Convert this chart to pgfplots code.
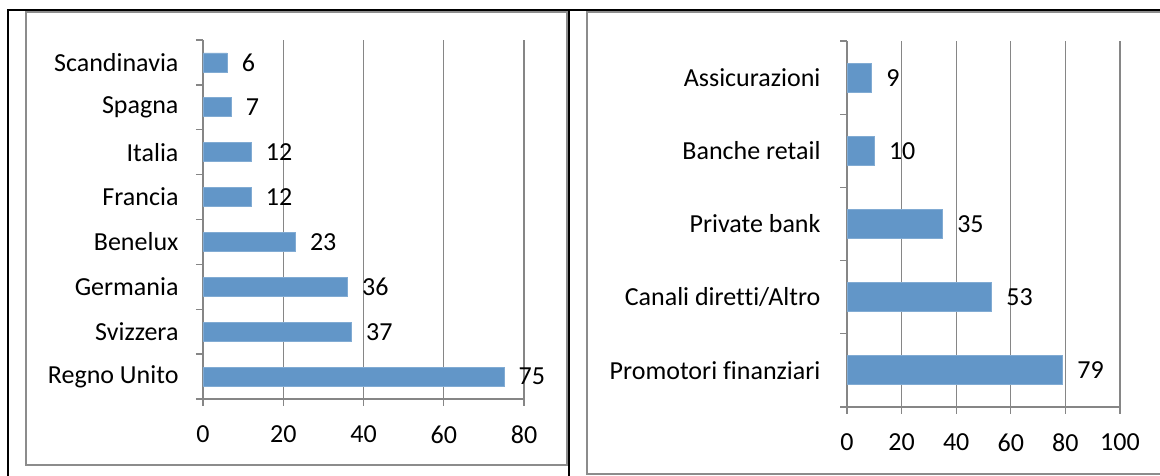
\documentclass[border=0pt]{standalone}
\usepackage{fontspec}
\setmainfont[Ligatures=NoCommon]{Carlito}
\usepackage{pgfplots}
\pgfplotsset{compat=1.18}

\definecolor{barblue}{RGB}{98,150,200}
\definecolor{axgray}{RGB}{134,134,134}
\definecolor{boxgray}{RGB}{140,140,140}

\pgfplotsset{
  catbar/.style={
    scale only axis,
    xbar, xmin=0,
    axis lines*=left,
    axis line style={axgray, line width=1.3pt},
    tick style={axgray, line width=1.3pt},
    major tick length=7pt,
    tick align=outside,
    xtick pos=bottom, ytick pos=left,
    xmajorgrids, grid style={axgray, line width=1.3pt},
    y tick label as interval,
    font=\fontsize{26}{30}\selectfont,
    /pgf/number format/assume math mode=true,
    xticklabel style={yshift=-16pt},
    nodes near coords,
    nodes near coords style={anchor=west, xshift=11pt, black},
  },
  barstyle/.style={fill=barblue, draw=barblue!80!white, line width=0.8pt},
}

\begin{document}
\begin{tikzpicture}[x=1pt,y=1pt]
\useasboundingbox (0,0) rectangle (1160,476);

% table frame and chart boxes
\draw[black, line width=1.3pt] (8,0) -- (8,466) -- (1162,466);
\draw[black, line width=1.3pt] (569,0) -- (569,466);
\draw[boxgray, line width=2pt] (26,11) rectangle (567,464);
\draw[boxgray, line width=2pt] (587,2) rectangle (1175,464);

% left chart
\begin{axis}[catbar,
  at={(203pt,77pt)}, anchor=south west,
  width=321pt, height=359pt,
  xmax=80, xtick={0,20,40,60,80},
  ymin=0.5, ymax=8.5,
  ytick={0.5,1.5,...,8.5},
  yticklabels={Regno Unito,Svizzera,Germania,Benelux,Francia,Italia,Spagna,Scandinavia,{}},
  yticklabel style={xshift=-14pt},
  bar width=19pt,
]
\addplot[barstyle] coordinates {(75,1) (37,2) (36,3) (23,4) (12,5) (12,6) (7,7) (6,8)};
\end{axis}

% right chart
\begin{axis}[catbar,
  at={(847pt,69pt)}, anchor=south west,
  width=273pt, height=366pt,
  xmax=100, xtick={0,20,40,60,80,100},
  ymin=0.5, ymax=5.5,
  ytick={0.5,1.5,...,5.5},
  yticklabels={Promotori finanziari,Canali diretti/Altro,Private bank,Banche retail,Assicurazioni,{}},
  yticklabel style={xshift=-16pt},
  bar width=29pt,
]
\addplot[barstyle] coordinates {(79,1) (53,2) (35,3) (10,4) (9,5)};
\end{axis}
\end{tikzpicture}
\end{document}
